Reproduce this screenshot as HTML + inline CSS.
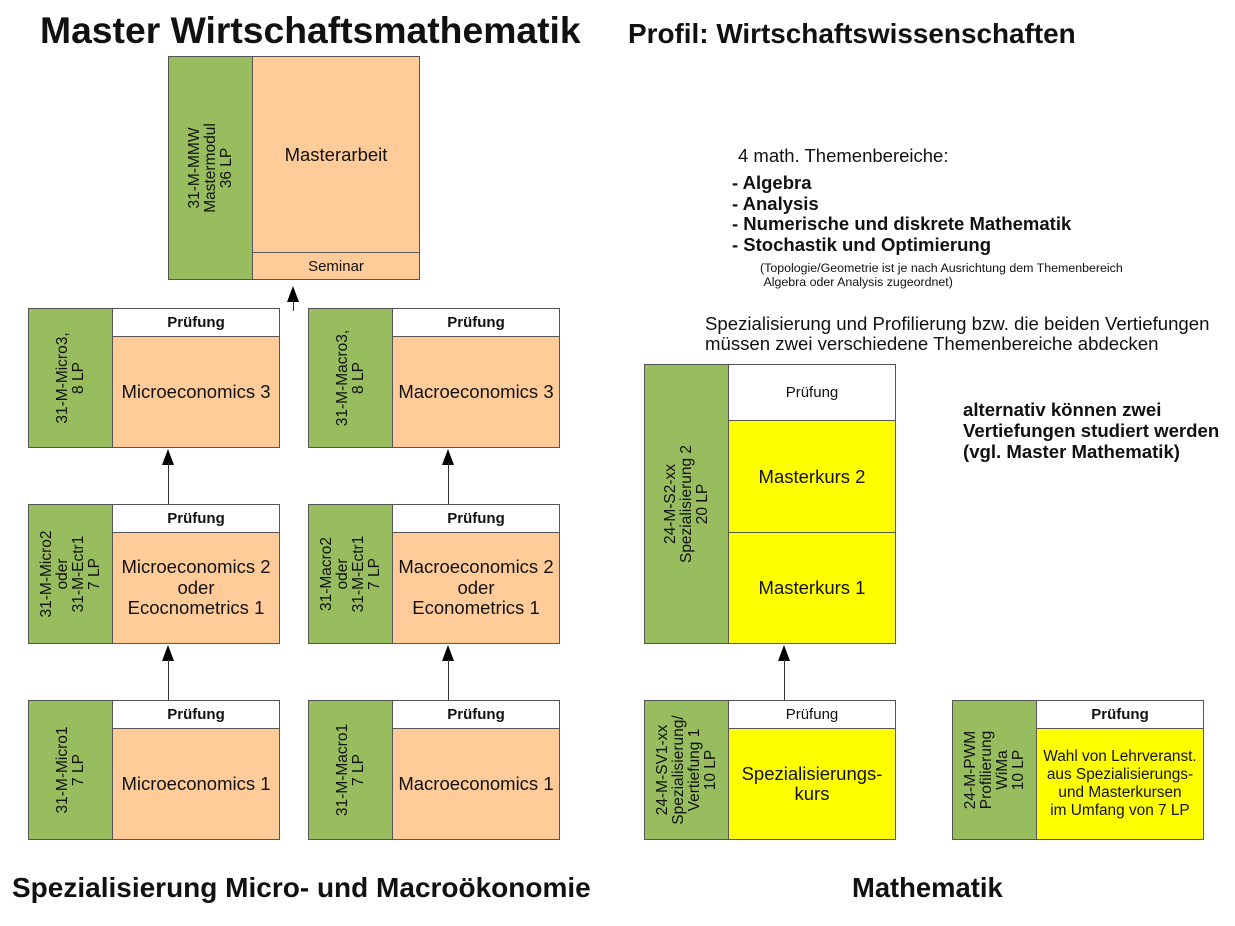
<!DOCTYPE html>
<html><head><meta charset="utf-8"><style>
body{margin:0;width:1235px;height:926px;background:#fff;font-family:"Liberation Sans",sans-serif;color:#111;position:relative;overflow:hidden}
.a{position:absolute;box-sizing:border-box}
.g{background:#97bd5f;border:1.5px solid #555}
.p{background:#ffcc99;border:1.5px solid #555}
.y{background:#ffff00;border:1.5px solid #555}
.w{background:#fff;border:1.5px solid #555}
.c{display:flex;align-items:center;justify-content:center;text-align:center}
.rot{position:absolute;left:50%;top:50%;transform:translate(-50%,-50%) rotate(-90deg);white-space:nowrap;text-align:center;font-size:15.5px;line-height:16px}
.t{position:absolute;white-space:nowrap}
.ln{position:absolute;width:1px;background:#333}
.ah{position:absolute;width:0;height:0;border-left:6px solid transparent;border-right:6px solid transparent;border-bottom:16px solid #000}
.pr{font-size:15px}
.big{font-size:18.5px}
</style></head><body>
<div class="t" style="left:40px;top:9px;font-size:37.3px;font-weight:bold">Master Wirtschaftsmathematik</div>
<div class="t" style="left:628px;top:18px;font-size:27.9px;font-weight:bold">Profil: Wirtschaftswissenschaften</div>
<div class="t" style="left:12px;top:872px;font-size:28px;font-weight:bold">Spezialisierung Micro- und Macroökonomie</div>
<div class="t" style="left:852px;top:872px;font-size:27.4px;font-weight:bold">Mathematik</div>

<div class="t" style="left:738px;top:145px;font-size:18.5px">4 math. Themenbereiche:</div>
<div class="t" style="left:732px;top:173px;font-size:18.5px;font-weight:bold;line-height:20.7px">- Algebra<br>- Analysis<br>- Numerische und diskrete Mathematik<br>- Stochastik und Optimierung</div>
<div class="t" style="left:760px;top:261px;font-size:12.4px;line-height:14px">(Topologie/Geometrie ist je nach Ausrichtung dem Themenbereich<br>&nbsp;Algebra oder Analysis zugeordnet)</div>
<div class="t" style="left:705px;top:314px;font-size:18.6px;line-height:20px">Spezialisierung und Profilierung bzw. die beiden Vertiefungen<br>müssen zwei verschiedene Themenbereiche abdecken</div>
<div class="t" style="left:963px;top:399px;font-size:18.6px;font-weight:bold;line-height:21px">alternativ können zwei<br>Vertiefungen studiert werden<br>(vgl. Master Mathematik)</div>

<!-- Master -->
<div class="a g" style="left:168px;top:56px;width:85px;height:224px"><div class="rot">31-M-MMW<br>Mastermodul<br>36 LP</div></div>
<div class="a p c big" style="left:252px;top:56px;width:168px;height:197px">Masterarbeit</div>
<div class="a p c pr" style="left:252px;top:252px;width:168px;height:28px">Seminar</div>
<div class="ah" style="left:287px;top:286px"></div><div class="ln" style="left:293px;top:300px;height:11px"></div>

<!-- left column -->
<div class="a g" style="left:28px;top:308px;width:85px;height:140px"><div class="rot">31-M-Micro3,<br>8 LP</div></div>
<div class="a w c pr" style="left:112px;top:308px;width:168px;height:29px;font-weight:bold">Prüfung</div>
<div class="a p c big" style="left:112px;top:336px;width:168px;height:112px">Microeconomics 3</div>

<div class="a g" style="left:28px;top:504px;width:85px;height:140px"><div class="rot">31-M-Micro2<br>oder<br>31-M-Ectr1<br>7 LP</div></div>
<div class="a w c pr" style="left:112px;top:504px;width:168px;height:29px;font-weight:bold">Prüfung</div>
<div class="a p c big" style="left:112px;top:532px;width:168px;height:112px;line-height:20.5px">Microeconomics 2<br>oder<br>Ecocnometrics 1</div>

<div class="a g" style="left:28px;top:700px;width:85px;height:140px"><div class="rot">31-M-Micro1<br>7 LP</div></div>
<div class="a w c pr" style="left:112px;top:700px;width:168px;height:29px;font-weight:bold">Prüfung</div>
<div class="a p c big" style="left:112px;top:728px;width:168px;height:112px">Microeconomics 1</div>

<div class="ah" style="left:162px;top:449px"></div><div class="ln" style="left:168px;top:463px;height:41px"></div>
<div class="ah" style="left:162px;top:645px"></div><div class="ln" style="left:168px;top:659px;height:41px"></div>

<!-- right column -->
<div class="a g" style="left:308px;top:308px;width:85px;height:140px"><div class="rot">31-M-Macro3,<br>8 LP</div></div>
<div class="a w c pr" style="left:392px;top:308px;width:168px;height:29px;font-weight:bold">Prüfung</div>
<div class="a p c big" style="left:392px;top:336px;width:168px;height:112px">Macroeconomics 3</div>

<div class="a g" style="left:308px;top:504px;width:85px;height:140px"><div class="rot">31-Macro2<br>oder<br>31-M-Ectr1<br>7 LP</div></div>
<div class="a w c pr" style="left:392px;top:504px;width:168px;height:29px;font-weight:bold">Prüfung</div>
<div class="a p c big" style="left:392px;top:532px;width:168px;height:112px;line-height:20.5px">Macroeconomics 2<br>oder<br>Econometrics 1</div>

<div class="a g" style="left:308px;top:700px;width:85px;height:140px"><div class="rot">31-M-Macro1<br>7 LP</div></div>
<div class="a w c pr" style="left:392px;top:700px;width:168px;height:29px;font-weight:bold">Prüfung</div>
<div class="a p c big" style="left:392px;top:728px;width:168px;height:112px">Macroeconomics 1</div>

<div class="ah" style="left:442px;top:449px"></div><div class="ln" style="left:448px;top:463px;height:41px"></div>
<div class="ah" style="left:442px;top:645px"></div><div class="ln" style="left:448px;top:659px;height:41px"></div>

<!-- math -->
<div class="a g" style="left:644px;top:364px;width:85px;height:280px"><div class="rot">24-M-S2-xx<br>Spezialisierung 2<br>20 LP</div></div>
<div class="a w c pr" style="left:728px;top:364px;width:168px;height:57px">Prüfung</div>
<div class="a y c big" style="left:728px;top:420px;width:168px;height:113px">Masterkurs 2</div>
<div class="a y c big" style="left:728px;top:532px;width:168px;height:112px">Masterkurs 1</div>
<div class="ah" style="left:778px;top:645px"></div><div class="ln" style="left:784px;top:659px;height:41px"></div>

<div class="a g" style="left:644px;top:700px;width:85px;height:140px"><div class="rot">24-M-SV1-xx<br>Spezialisierung/<br>Vertiefung 1<br>10 LP</div></div>
<div class="a w c pr" style="left:728px;top:700px;width:168px;height:29px">Prüfung</div>
<div class="a y c big" style="left:728px;top:728px;width:168px;height:112px;line-height:20.5px">Spezialisierungs-<br>kurs</div>

<div class="a g" style="left:952px;top:700px;width:85px;height:140px"><div class="rot">24-M-PWM<br>Profilierung<br>WiMa<br>10 LP</div></div>
<div class="a w c pr" style="left:1036px;top:700px;width:168px;height:29px;font-weight:bold">Prüfung</div>
<div class="a y c" style="left:1036px;top:728px;width:168px;height:112px;font-size:15.4px;line-height:18px">Wahl von Lehrveranst.<br>aus Spezialisierungs-<br>und Masterkursen<br>im Umfang von 7 LP</div>
</body></html>
